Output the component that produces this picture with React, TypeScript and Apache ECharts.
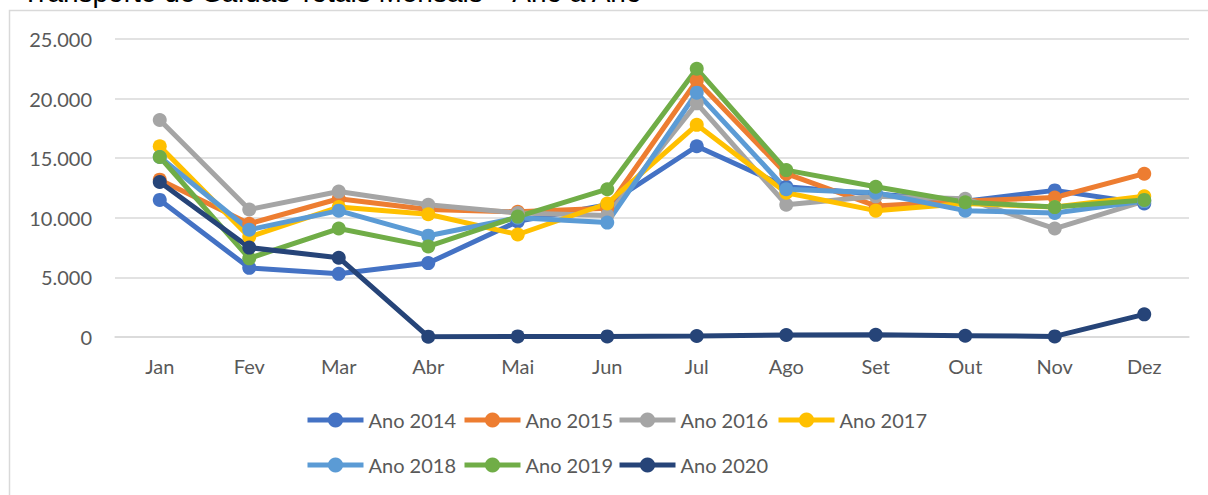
import React, { useEffect, useRef } from "react";
import * as echarts from "echarts";

const months = ["Jan", "Fev", "Mar", "Abr", "Mai", "Jun", "Jul", "Ago", "Set", "Out", "Nov", "Dez"];
const seriesNames = ["Ano 2014", "Ano 2015", "Ano 2016", "Ano 2017", "Ano 2018", "Ano 2019", "Ano 2020"];
const seriesColors = ["#4472C4", "#ED7D31", "#A5A5A5", "#FFC000", "#5B9BD5", "#70AD47", "#264478"];

const ano2014 = [11500, 5800, 5300, 6200, 9700, 11100, 16000, 12600, 12000, 11400, 12300, 11200];
const ano2015 = [13200, 9500, 11600, 10700, 10500, 10800, 21500, 13700, 11000, 11400, 11700, 13700];
const ano2016 = [18200, 10700, 12200, 11100, 10400, 10200, 19600, 11100, 11800, 11600, 9100, 11400];
const ano2017 = [16000, 8400, 10900, 10300, 8600, 11200, 17800, 12100, 10600, 11200, 10900, 11800];
const ano2018 = [15100, 9000, 10600, 8500, 10000, 9600, 20500, 12400, 12100, 10600, 10400, 11400];
const ano2019 = [15100, 6600, 9100, 7600, 10100, 12400, 22500, 14000, 12600, 11300, 10900, 11500];
const ano2020 = [13000, 7500, 6650, 30, 50, 50, 80, 170, 180, 110, 50, 1900];

const allSeries = [ano2014, ano2015, ano2016, ano2017, ano2018, ano2019, ano2020];

const yTicks = { min: 0, max: 25000, interval: 5000 };

const titleText = "Transporte de Saídas Totais Mensais – Ano a Ano";

const FONT = "Lato, 'Open Sans', sans-serif";

const fmt = (v: number) => String(v).replace(/\B(?=(\d{3})+(?!\d))/g, ".");

const legendPos = [
  [305, 410], [462, 410], [617, 410], [776, 410],
  [305, 455], [462, 455], [617, 455],
];

export default function App() {
  const ref = useRef<HTMLDivElement>(null);
  useEffect(() => {
    if (!ref.current) return;
    const chart = echarts.init(ref.current, undefined, { renderer: "svg" });
    chart.setOption({
      animation: false,
      backgroundColor: "#ffffff",
      graphic: [
        {
          type: "rect",
          shape: { x: 9.5, y: 10.5, width: 1300, height: 600 },
          style: { fill: "none", stroke: "#d9d9d9", lineWidth: 1.5 },
          z: 0,
        },
        {
          type: "text",
          x: 22,
          y: -22,
          style: { text: titleText, font: "28px 'Liberation Sans', sans-serif", fill: "#000000" },
          z: 1,
        },
      ],
      grid: { left: 115, right: 19, top: 39, bottom: 158, containLabel: false },
      xAxis: {
        type: "category",
        data: months,
        boundaryGap: true,
        axisLine: { show: true, lineStyle: { color: "#d9d9d9", width: 1.5 } },
        axisTick: { show: false },
        axisLabel: { color: "#595959", fontSize: 20, fontFamily: FONT, margin: 19 },
      },
      yAxis: {
        type: "value",
        min: yTicks.min,
        max: yTicks.max,
        interval: yTicks.interval,
        axisLine: { show: false },
        axisTick: { show: false },
        splitLine: { lineStyle: { color: "#d9d9d9", width: 1.5 } },
        axisLabel: { color: "#595959", fontSize: 20, fontFamily: FONT, margin: 23, formatter: (v: number) => fmt(v) },
      },
      legend: seriesNames.map((n, i) => ({
        data: [n],
        left: legendPos[i][0],
        top: legendPos[i][1],
        padding: 0,
        itemGap: 0,
        itemWidth: 56,
        itemHeight: 19,
        lineStyle: { width: 5 },
        textStyle: { color: "#595959", fontSize: 20, fontFamily: FONT, padding: [0, 0, 0, 0] },
      })),
      series: allSeries.map((d, i) => ({
        name: seriesNames[i],
        type: "line",
        data: d,
        symbol: "circle",
        symbolSize: 14,
        lineStyle: { width: 5, color: seriesColors[i] },
        itemStyle: { color: seriesColors[i] },
        emphasis: { disabled: true },
      })),
    });
    return () => chart.dispose();
  }, []);
  return <div ref={ref} style={{ position: "fixed", left: 0, top: 0, width: 1208, height: 495 }} />;
}
